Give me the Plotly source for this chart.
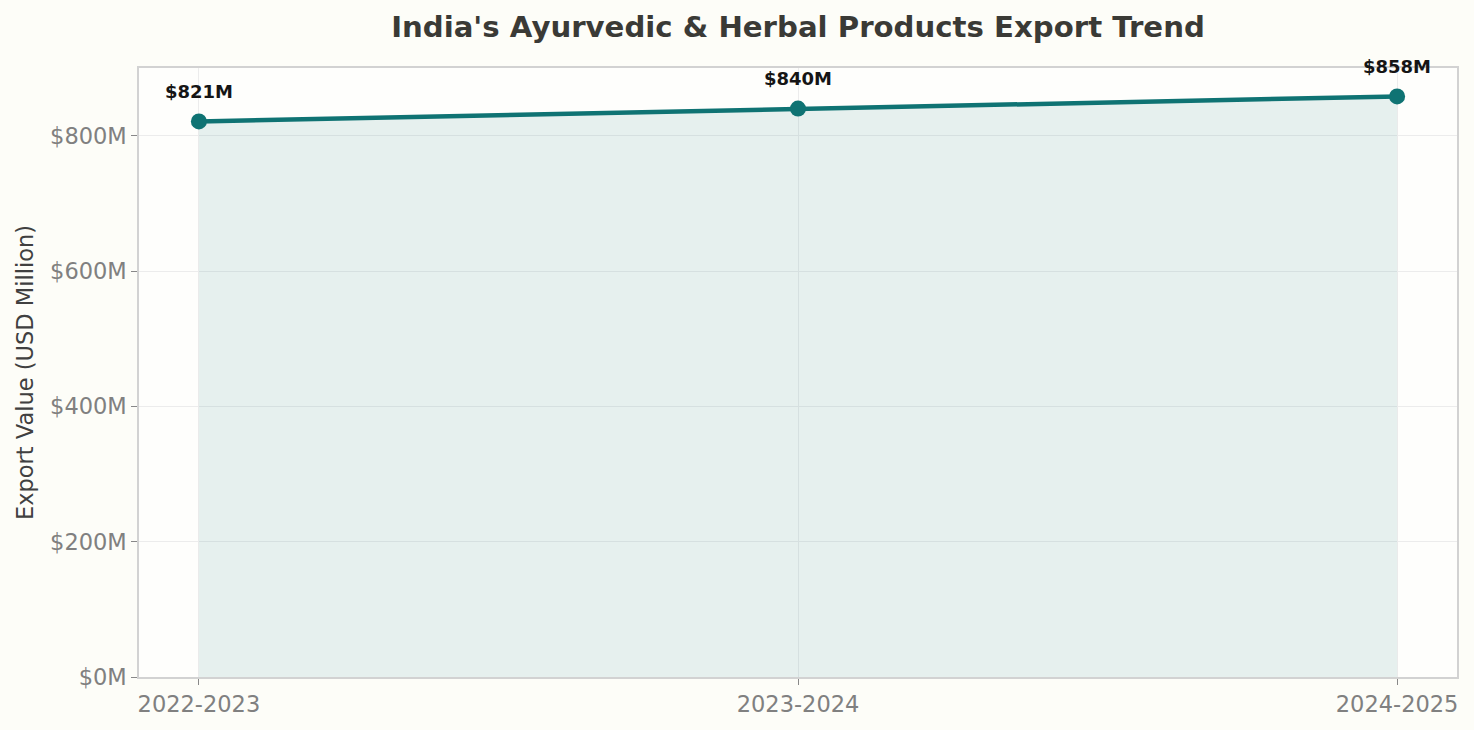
import plotly.graph_objects as go

years = ["2022-2023", "2023-2024", "2024-2025"]
export_values = [821, 840, 858]
value_labels = ["$821M", "$840M", "$858M"]
tick_vals = [0, 200, 400, 600, 800]
tick_text = ["$0M", "$200M", "$400M", "$600M", "$800M"]

teal = "#0f7373"

fig = go.Figure()

# area + line + markers
fig.add_trace(go.Scatter(
    x=years, y=export_values,
    mode="lines+markers",
    line=dict(color=teal, width=4.5),
    marker=dict(size=16, color=teal),
    fill="tozeroy",
    fillcolor="rgba(15,115,115,0.10)",
    hoverinfo="x+y",
    showlegend=False
))

# value labels above each point
for yr, val, lab in zip(years, export_values, value_labels):
    fig.add_annotation(
        x=yr, y=val, text="<b>" + lab + "</b>",
        showarrow=False, yshift=30,
        font=dict(family="DejaVu Sans", size=18, color="#151515")
    )

fig.update_layout(
    width=1474, height=730,
    paper_bgcolor="#fdfdf8",
    plot_bgcolor="#fefefc",
    margin=dict(l=139, r=17, t=68, b=53),
    font=dict(family="DejaVu Sans", color="#808080"),
    title=dict(
        text="<b>India's Ayurvedic & Herbal Products Export Trend</b>",
        xref="paper", x=0.5, xanchor="center", y=0.963, yanchor="middle",
        font=dict(family="DejaVu Sans", size=29.2, color="#3a3a36")
    ),
    xaxis=dict(
        range=[-0.1, 2.1],
        showline=True, linecolor="#d2d2d2", linewidth=1.5, mirror=True,
        ticks="outside", tickcolor="#888888", ticklen=6,
        showgrid=True, gridcolor="#ececec",
        tickfont=dict(size=22.5, color="#808080"),
        zeroline=False
    ),
    yaxis=dict(
        range=[0, 900],
        tickvals=tick_vals, ticktext=tick_text,
        showline=True, linecolor="#d2d2d2", linewidth=1.5, mirror=True,
        ticks="outside", tickcolor="#888888", ticklen=6,
        showgrid=True, gridcolor="#ececec",
        tickfont=dict(size=22.5, color="#808080"),
        title=dict(text="Export Value (USD Million)", font=dict(size=22.5, color="#404040"), standoff=10),
        zeroline=False
    )
)

fig.write_html("out.html", config={"displayModeBar": False},
               post_script="document.body.style.margin='0';")
